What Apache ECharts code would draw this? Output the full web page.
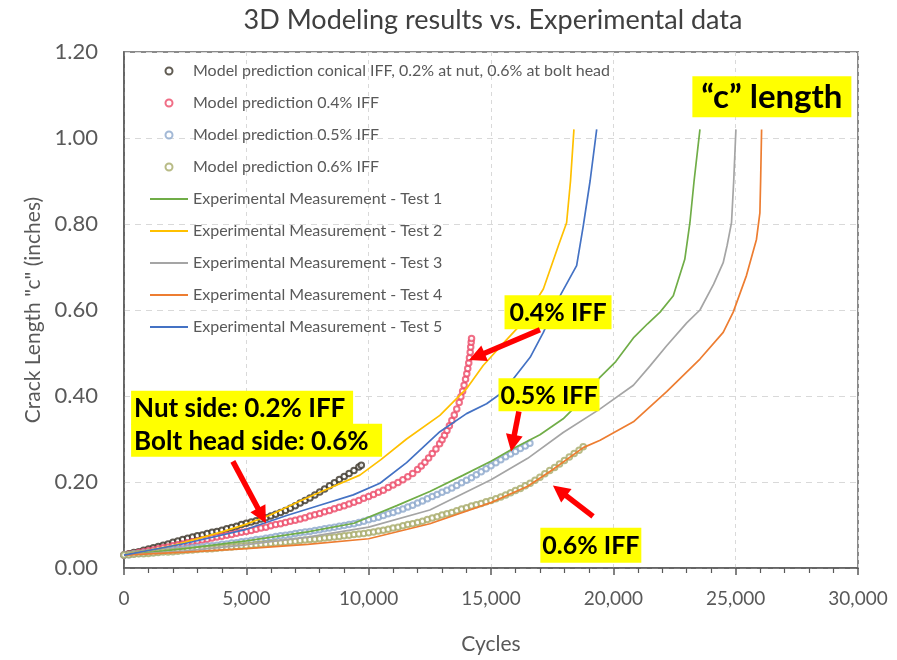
<!DOCTYPE html>
<html>
<head>
<meta charset="utf-8">
<script src="https://cdn.jsdelivr.net/npm/echarts@6/dist/echarts.min.js"></script>
<style>
  html, body { margin: 0; padding: 0; background: #ffffff; }
  #chart { width: 897px; height: 660px; }
</style>
</head>
<body>
<div id="chart"></div>
<script>
// ---- Axis ticks ----
const cycleTicks = [0, 5000, 10000, 15000, 20000, 25000, 30000];
const lengthTicks = [0, 0.2, 0.4, 0.6, 0.8, 1.0, 1.2];

// ---- Model predictions: [cycles, crack length c (in)] ----
const modelConical = [
  [0,.030],[200,.033],[400,.036],[600,.038],[800,.041],[1000,.044],[1200,.047],[1400,.050],[1600,.053],[1800,.056],
  [2000,.060],[2200,.063],[2400,.066],[2600,.069],[2800,.072],[3000,.075],[3200,.077],[3400,.080],[3600,.083],[3800,.085],
  [4000,.088],[4200,.091],[4400,.094],[4600,.097],[4800,.101],[5000,.104],[5200,.107],[5400,.110],[5600,.114],[5800,.117],
  [6000,.121],[6200,.125],[6400,.129],[6600,.134],[6800,.139],[7000,.145],[7200,.151],[7400,.157],[7600,.163],[7800,.170],
  [8000,.177],[8200,.184],[8400,.191],[8600,.198],[8800,.206],[9000,.213],[9200,.220],[9400,.227],[9600,.235],[9700,.239]
];
const model04 = [
  [0,.030],[200,.032],[400,.034],[600,.036],[800,.038],[1000,.040],[1200,.042],[1400,.045],[1600,.047],[1800,.049],
  [2000,.052],[2200,.054],[2400,.056],[2600,.059],[2800,.061],[3000,.063],[3200,.065],[3400,.067],[3600,.070],[3800,.072],
  [4000,.074],[4200,.076],[4400,.078],[4600,.081],[4800,.083],[5000,.085],[5200,.087],[5400,.090],[5600,.093],[5800,.095],
  [6000,.098],[6200,.101],[6400,.103],[6600,.106],[6800,.109],[7000,.111],[7200,.114],[7400,.117],[7600,.121],[7800,.124],
  [8000,.127],[8200,.131],[8400,.134],[8600,.138],[8800,.141],[9000,.145],[9200,.149],[9400,.153],[9600,.157],[9800,.162],
  [10000,.166],[10200,.171],[10400,.176],[10600,.181],[10800,.187],[11000,.193],[11200,.199],[11400,.205],[11600,.212],[11800,.220],
  [12000,.229],[12150,.237],[12300,.246],[12450,.256],[12600,.266],[12750,.277],[12900,.289],[13000,.298],[13100,.309],[13200,.320],
  [13300,.331],[13400,.343],[13500,.356],[13600,.370],[13700,.385],[13770,.398],[13840,.411],[13900,.425],[13960,.439],[14010,.452],
  [14050,.464],[14090,.477],[14120,.489],[14150,.502],[14170,.514],[14190,.525],[14205,.534]
];
const model05 = [
  [0,.030],[200,.031],[400,.033],[600,.034],[800,.035],[1000,.036],[1200,.037],[1400,.038],[1600,.040],[1800,.041],
  [2000,.042],[2200,.043],[2400,.044],[2600,.046],[2800,.047],[3000,.048],[3200,.049],[3400,.051],[3600,.052],[3800,.053],
  [4000,.055],[4200,.056],[4400,.058],[4600,.059],[4800,.061],[5000,.062],[5200,.064],[5400,.066],[5600,.067],[5800,.069],
  [6000,.071],[6200,.073],[6400,.075],[6600,.076],[6800,.078],[7000,.080],[7200,.082],[7400,.084],[7600,.085],[7800,.087],
  [8000,.089],[8200,.091],[8400,.093],[8600,.095],[8800,.097],[9000,.099],[9200,.101],[9400,.103],[9600,.106],[9800,.109],
  [10000,.112],[10200,.115],[10400,.118],[10600,.122],[10800,.126],[11000,.129],[11200,.133],[11400,.137],[11600,.142],[11800,.146],
  [12000,.151],[12200,.156],[12400,.161],[12600,.166],[12800,.171],[13000,.176],[13200,.181],[13400,.186],[13600,.192],[13800,.198],
  [14000,.204],[14200,.210],[14400,.217],[14600,.224],[14800,.231],[15000,.238],[15200,.245],[15400,.252],[15600,.259],[15800,.265],
  [16000,.271],[16200,.278],[16400,.284],[16590,.290]
];
const model06 = [
  [0,.030],[200,.031],[400,.032],[600,.033],[800,.033],[1000,.034],[1200,.035],[1400,.036],[1600,.037],[1800,.037],
  [2000,.038],[2200,.039],[2400,.040],[2600,.041],[2800,.042],[3000,.043],[3200,.044],[3400,.044],[3600,.045],[3800,.046],
  [4000,.047],[4200,.048],[4400,.049],[4600,.050],[4800,.051],[5000,.052],[5200,.053],[5400,.054],[5600,.055],[5800,.056],
  [6000,.057],[6200,.058],[6400,.059],[6600,.060],[6800,.061],[7000,.062],[7200,.064],[7400,.065],[7600,.066],[7800,.067],
  [8000,.068],[8200,.070],[8400,.071],[8600,.072],[8800,.073],[9000,.075],[9200,.076],[9400,.078],[9600,.079],[9800,.080],
  [10000,.082],[10200,.084],[10400,.086],[10600,.088],[10800,.090],[11000,.093],[11200,.095],[11400,.098],[11600,.101],[11800,.103],
  [12000,.106],[12200,.109],[12400,.113],[12600,.116],[12800,.119],[13000,.123],[13200,.126],[13400,.129],[13600,.133],[13800,.137],
  [14000,.140],[14200,.144],[14400,.147],[14600,.150],[14800,.154],[15000,.157],[15200,.161],[15400,.165],[15600,.170],[15800,.175],
  [16000,.180],[16200,.185],[16400,.191],[16600,.197],[16800,.204],[17000,.211],[17200,.219],[17400,.227],[17600,.234],[17800,.242],
  [18000,.250],[18200,.258],[18400,.266],[18600,.274],[18770,.282]
];

// ---- Experimental measurements: [cycles, crack length c (in)] ----
const test1 = [
  [0,0.030],[2500,0.045],[5000,0.063],[7500,0.084],[9400,0.104],[11150,0.145],[12500,0.178],[13870,0.216],
  [15000,0.248],[15910,0.278],[17000,0.310],[17950,0.347],[18800,0.395],[19460,0.444],[20100,0.480],[20820,0.535],
  [21400,0.568],[21910,0.595],[22450,0.633],[22920,0.718],[23130,0.803],[23300,0.900],[23540,1.020]
];
const test2 = [
  [0,0.030],[2000,0.052],[4000,0.084],[5000,0.102],[6000,0.124],[7200,0.156],[8000,0.176],[9640,0.216],
  [10500,0.252],[11550,0.300],[12910,0.355],[14000,0.417],[14680,0.471],[15300,0.510],[16050,0.556],[16600,0.600],
  [17140,0.649],[17750,0.749],[18090,0.803],[18250,0.900],[18390,1.020]
];
const test3 = [
  [0,0.030],[2500,0.040],[5000,0.054],[7500,0.072],[10000,0.095],[12500,0.135],[15000,0.205],[16500,0.255],
  [17950,0.315],[19460,0.370],[20820,0.425],[21500,0.470],[22180,0.517],[23000,0.570],[23540,0.600],[24100,0.660],
  [24490,0.710],[24650,0.750],[24830,0.803],[24920,0.900],[25010,1.020]
];
const test4 = [
  [0,0.030],[2500,0.037],[5000,0.045],[7500,0.055],[10000,0.068],[12500,0.103],[15000,0.152],[16500,0.190],
  [17500,0.228],[18770,0.280],[19460,0.297],[20820,0.340],[22180,0.410],[23540,0.486],[24490,0.548],[24900,0.595],
  [25440,0.680],[25850,0.764],[25990,0.826],[26020,0.900],[26060,1.020]
];
const test5 = [
  [0,0.030],[2500,0.057],[5000,0.090],[6650,0.122],[8000,0.146],[9370,0.170],[10460,0.197],[11550,0.245],
  [12910,0.317],[14000,0.359],[14820,0.382],[15500,0.410],[16050,0.450],[16600,0.490],[17140,0.548],[17820,0.633],
  [18500,0.703],[18770,0.795],[19050,0.900],[19320,1.020]
];

const modelNames = [
  'Model prediction conical IFF, 0.2% at nut, 0.6% at bolt head',
  'Model prediction 0.4% IFF',
  'Model prediction 0.5% IFF',
  'Model prediction 0.6% IFF'
];
const testNames = [
  'Experimental Measurement - Test 1',
  'Experimental Measurement - Test 2',
  'Experimental Measurement - Test 3',
  'Experimental Measurement - Test 4',
  'Experimental Measurement - Test 5'
];

const FONT = 'Lato, "Open Sans", sans-serif';
const modelColors = ['#3a3328', '#ec4a68', '#8ca8cc', '#a6aa68'];
const testColors = ['#70ad47', '#ffc000', '#a5a5a5', '#ed7d31', '#4472c4'];

const modelSeries = [modelConical, model04, model05, model06].map((d, i) => ({
  name: modelNames[i],
  type: 'scatter',
  data: d,
  symbol: 'emptyCircle',
  symbolSize: 5.5,
  itemStyle: { color: modelColors[i], borderColor: modelColors[i], borderWidth: 1.2 },
  emphasis: { disabled: true },
  z: 2
}));

const testSeries = [test1, test2, test3, test4, test5].map((d, i) => ({
  name: testNames[i],
  type: 'line',
  data: d,
  symbol: 'none',
  lineStyle: { color: testColors[i], width: 1.7 },
  itemStyle: { color: testColors[i] },
  emphasis: { disabled: true },
  z: 3
}));

// legend: small circles for the model points, short bars for the measured curves
const legendData = modelNames.map(n => ({ name: n }))
  .concat(testNames.map(n => ({ name: n, icon: 'path://M0,0H38V2H0Z' })));

const chart = echarts.init(document.getElementById('chart'), null, { renderer: 'canvas' });

chart.setOption({
  animation: false,
  backgroundColor: '#ffffff',
  title: {
    text: '3D Modeling results vs. Experimental data',
    left: 488,
    textAlign: 'center',
    top: 2,
    textStyle: { fontFamily: FONT, fontSize: 27, fontWeight: 'normal', color: '#404040' }
  },
  grid: {
    left: 124, right: 39, top: 52, bottom: 90,
    show: true, borderColor: '#8a8a8a', borderWidth: 2, backgroundColor: 'transparent'
  },
  legend: {
    orient: 'vertical',
    left: 145,
    top: 58,
    itemWidth: 38,
    itemHeight: 7,
    itemGap: 16,
    selectedMode: false,
    data: legendData,
    textStyle: { fontFamily: FONT, fontSize: 16, color: '#595959', lineHeight: 14 }
  },
  xAxis: {
    type: 'value',
    min: cycleTicks[0],
    max: cycleTicks[cycleTicks.length - 1],
    interval: cycleTicks[1] - cycleTicks[0],
    name: 'Cycles',
    nameLocation: 'middle',
    nameGap: 66,
    nameTextStyle: { fontFamily: FONT, fontSize: 21, color: '#595959' },
    axisLine: { show: true, lineStyle: { color: '#595959', width: 1.5 } },
    axisTick: { show: true, inside: false, length: 7, lineStyle: { color: '#595959', width: 1.5 } },
    minorTick: { show: true, splitNumber: 5, length: 5, lineStyle: { color: '#595959', width: 1.2 } },
    axisLabel: {
      margin: 21,
      fontFamily: FONT, fontSize: 19, color: '#595959',
      formatter: v => v.toLocaleString('en-US')
    },
    splitLine: { show: true, lineStyle: { color: '#d9d9d9', type: [4, 4], width: 1 } }
  },
  yAxis: {
    type: 'value',
    min: lengthTicks[0],
    max: lengthTicks[lengthTicks.length - 1],
    interval: 0.2,
    name: 'Crack Length "c" (inches)',
    nameLocation: 'middle',
    nameGap: 80,
    nameRotate: 90,
    nameTextStyle: { fontFamily: FONT, fontSize: 21, color: '#595959' },
    axisLine: { show: true, lineStyle: { color: '#595959', width: 1.5 } },
    axisTick: { show: false },
    axisLabel: {
      margin: 26,
      fontFamily: FONT, fontSize: 22, color: '#595959',
      formatter: v => v.toFixed(2)
    },
    splitLine: { show: true, lineStyle: { color: '#d9d9d9', type: [6, 5], width: 1 } }
  },
  series: modelSeries.concat(testSeries)
});

// ---- Callouts (anchored in data coordinates) ----
const callouts = [
  { text: '“c” length', at: [26480, 1.096], w: 159, h: 41, size: 33 },
  { text: '0.4% IFF', at: [17740, 0.595], w: 107, h: 34, size: 25 },
  { text: '0.5% IFF', at: [17370, 0.403], w: 101, h: 33, size: 25 },
  { text: '0.6% IFF', at: [19080, 0.053], w: 101, h: 35, size: 25 }
];
const sideNote = { at: [290, 0.412], rows: ['Nut side: 0.2% IFF', 'Bolt head side: 0.6%'], widths: [222, 251], h: 35, size: 26 };
const arrows = [
  { from: [17000, 0.554], to: [14100, 0.484] },
  { from: [16140, 0.364], to: [15820, 0.271] },
  { from: [19170, 0.120], to: [17530, 0.192] },
  { from: [4450, 0.248], to: [5800, 0.104] }
];

function toPx(pt) { return chart.convertToPixel({ gridIndex: 0 }, pt); }

const graphics = [];
callouts.forEach(c => {
  const p = toPx(c.at);
  graphics.push({
    type: 'rect', z: 100,
    shape: { x: p[0] - c.w / 2, y: p[1] - c.h / 2, width: c.w, height: c.h },
    style: { fill: '#ffff00' }
  });
  graphics.push({
    type: 'text', z: 101, x: p[0], y: p[1] + 1,
    style: { text: c.text, font: 'bold ' + c.size + 'px ' + FONT, fill: '#000000', align: 'center', verticalAlign: 'middle' }
  });
});
(function () {
  const p = toPx(sideNote.at);
  sideNote.rows.forEach((t, i) => {
    const top = p[1] + i * (sideNote.h - 2);
    graphics.push({
      type: 'rect', z: 100,
      shape: { x: p[0], y: top, width: sideNote.widths[i], height: sideNote.h - 2 + (i === 0 ? 1 : 0) },
      style: { fill: '#ffff00' }
    });
    graphics.push({
      type: 'text', z: 101, x: p[0] + 3, y: top + (sideNote.h - 2) / 2 + 1,
      style: { text: t, font: 'bold ' + sideNote.size + 'px ' + FONT, fill: '#000000', align: 'left', verticalAlign: 'middle' }
    });
  });
})();
arrows.forEach(a => {
  const s = toPx(a.from), e = toPx(a.to);
  const dx = e[0] - s[0], dy = e[1] - s[1];
  const len = Math.hypot(dx, dy), ux = dx / len, uy = dy / len;
  const headLen = 17, headHalf = 8.5;
  const bx = e[0] - ux * headLen, by = e[1] - uy * headLen;
  graphics.push({
    type: 'line', z: 100,
    shape: { x1: s[0], y1: s[1], x2: bx + ux * 2, y2: by + uy * 2 },
    style: { stroke: '#ff0000', lineWidth: 5.5 }
  });
  graphics.push({
    type: 'polygon', z: 100,
    shape: { points: [[e[0], e[1]], [bx - uy * headHalf, by + ux * headHalf], [bx + uy * headHalf, by - ux * headHalf]] },
    style: { fill: '#ff0000' }
  });
});
chart.setOption({ graphic: graphics });
</script>
</body>
</html>
